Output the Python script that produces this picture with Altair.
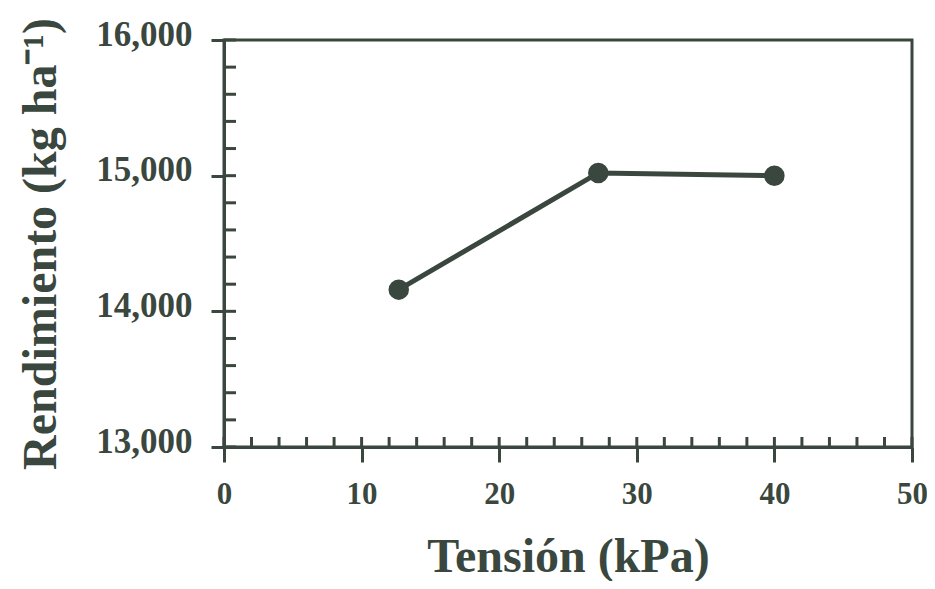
import altair as alt
import pandas as pd

# data
tension = [12.7, 27.2, 40.0]
rendimiento = [14160, 15020, 15000]

x_major = [0, 10, 20, 30, 40, 50]
x_minor = [0, 2, 4, 6, 8, 10, 12, 14, 16, 18, 20, 22, 24, 26, 28, 30,
           32, 34, 36, 38, 40, 42, 44, 46, 48, 50]
y_major = [13000, 14000, 15000, 16000]
y_minor = [13000, 13200, 13400, 13600, 13800, 14000, 14200, 14400, 14600,
           14800, 15000, 15200, 15400, 15600, 15800, 16000]

INK = "#3a473e"
FONT = "Liberation Serif"
W, H = 688, 407

df = pd.DataFrame({"t": tension, "r": rendimiento})
dfx = pd.DataFrame({"v": x_minor})
dfy = pd.DataFrame({"v": y_minor})

xscale = alt.Scale(domain=[0, 50], nice=False, zero=False)
yscale = alt.Scale(domain=[13000, 16000], nice=False, zero=False)

xaxis = alt.Axis(values=x_major, tickSize=15, labelPadding=41, titlePadding=24,
                 format="d", labelFontSize=31, labelFlush=False,
                 labelBaseline="alphabetic")
yaxis = alt.Axis(values=y_major, tickSize=13, labelPadding=19, titlePadding=30,
                 format=",d", labelFontSize=35, labelFlush=False,
                 labelBaseline="alphabetic", labelOffset=5)

base = alt.Chart(df)
line = base.mark_line(color=INK, strokeWidth=5).encode(
    x=alt.X("t:Q", scale=xscale, axis=xaxis, title="Tensión (kPa)"),
    y=alt.Y("r:Q", scale=yscale, axis=yaxis, title="Rendimiento (kg ha⁻¹)"),
)
pts = base.mark_point(filled=True, color=INK, size=420, opacity=1).encode(
    x=alt.X("t:Q", scale=xscale, axis=xaxis, title="Tensión (kPa)"),
    y=alt.Y("r:Q", scale=yscale, axis=yaxis, title="Rendimiento (kg ha⁻¹)"),
)

xin = alt.Chart(dfx).mark_rule(color=INK, strokeWidth=3).encode(
    x=alt.X("v:Q", scale=xscale, axis=xaxis, title="Tensión (kPa)"),
    y=alt.value(H - 10),
    y2=alt.value(H),
)
yin = alt.Chart(dfy).mark_rule(color=INK, strokeWidth=3).encode(
    y=alt.Y("v:Q", scale=yscale, axis=yaxis, title="Rendimiento (kg ha⁻¹)"),
    x=alt.value(0),
    x2=alt.value(12),
)

chart = alt.layer(line, pts, xin, yin).properties(
    width=W,
    height=H,
    autosize=alt.AutoSizeParams(type="none"),
    padding={"left": 216, "top": 32, "right": 15, "bottom": 134},
).configure_view(
    stroke=INK, strokeWidth=3
).configure_axis(
    grid=False,
    domainColor=INK, domainWidth=3,
    tickColor=INK, tickWidth=3,
    labelFont=FONT, labelFontWeight="bold", labelColor=INK,
    titleFont=FONT, titleFontWeight="bold", titleColor=INK, titleFontSize=48,
)

chart.save("out.html", embed_options={"renderer": "svg", "actions": False})
